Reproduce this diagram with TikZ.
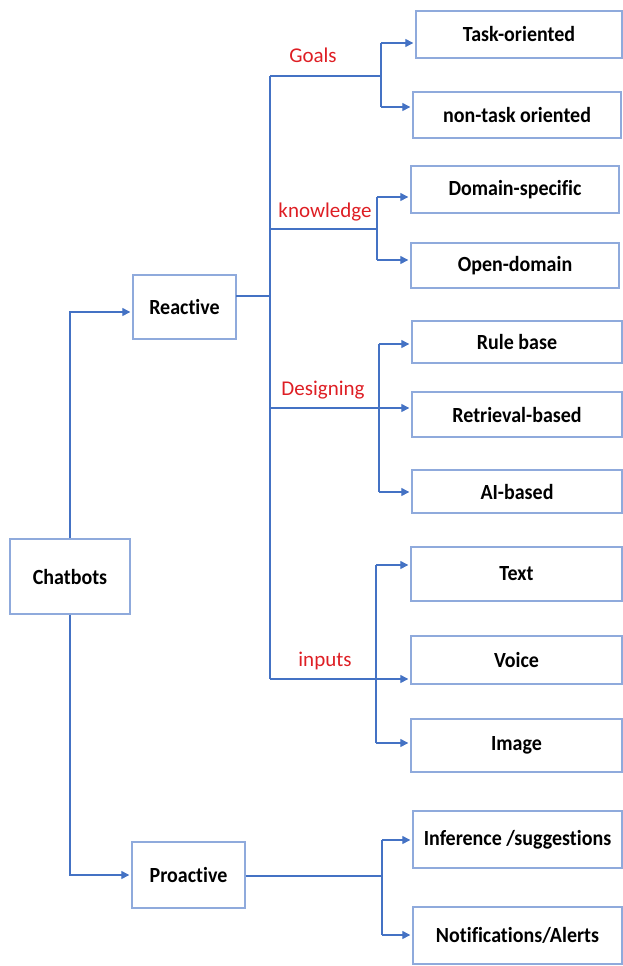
\documentclass[tikz,border=0pt]{standalone}
\usepackage{fontspec}
\setmainfont[Ligatures=NoCommon]{Carlito}
\usetikzlibrary{arrows.meta}
\definecolor{linkblue}{RGB}{68,114,196}
\definecolor{boxblue}{RGB}{143,170,220}
\definecolor{labelred}{RGB}{222,30,36}
\newcommand{\tallt}[1]{\scalebox{1}[1.08]{#1}}
\tikzset{
  catbox/.style={draw=boxblue, line width=1.4pt, fill=white, inner sep=0pt,
    font=\fontsize{20}{23}\selectfont\bfseries, text=black},
  link/.style={draw=linkblue, line width=1.3pt},
  arr/.style={link, -{Triangle[length=8pt,width=8pt]}, shorten >=2pt},
  branchlabel/.style={font=\fontsize{21}{24}\selectfont, text=labelred}
}
\begin{document}
\begin{tikzpicture}[x=1pt,y=-1pt]
\useasboundingbox (0,0) rectangle (623,966);

% main categories
\node[catbox, minimum width=120pt, minimum height=75pt] (chat) at (70,576.5) {\tallt{Chatbots}};
\node[catbox, minimum width=103pt, minimum height=64pt] (reac) at (184.5,307) {\tallt{Reactive}};
\node[catbox, minimum width=113pt, minimum height=66pt] (proa) at (188.5,875) {\tallt{Proactive}};

% leaves
\node[catbox, minimum width=206pt, minimum height=47pt] (task) at (519,34.5) {\tallt{Task-oriented}};
\node[catbox, minimum width=208pt, minimum height=46pt] (nontask) at (517,115) {\tallt{non-task oriented}};
\node[catbox, minimum width=208pt, minimum height=47pt] (dom) at (515,189.5) {\tallt{Domain-specific}};
\node[catbox, minimum width=208pt, minimum height=45pt] (open) at (515,265.5) {\tallt{Open-domain}};
\node[catbox, minimum width=210pt, minimum height=42pt] (rule) at (517,342) {\tallt{Rule base}};
\node[catbox, minimum width=210pt, minimum height=45pt] (retr) at (517,414.5) {\tallt{Retrieval-based}};
\node[catbox, minimum width=210pt, minimum height=43pt] (ai) at (517,491.5) {\tallt{AI-based}};
\node[catbox, minimum width=211pt, minimum height=54pt] (text) at (516.5,574) {\tallt{Text}};
\node[catbox, minimum width=211pt, minimum height=48pt] (voice) at (516.5,660) {\tallt{Voice}};
\node[catbox, minimum width=211pt, minimum height=53pt] (image) at (516.5,745.5) {\tallt{Image}};
\node[catbox, minimum width=209pt, minimum height=57pt] (inf) at (517.5,839.5) {\tallt{Inference /suggestions}};
\node[catbox, minimum width=209pt, minimum height=57pt] (notif) at (517.5,935.5) {\tallt{Notifications/Alerts}};

% routing points
\coordinate (reacin) at (133,312);
\coordinate (reacout) at (236,296);
\coordinate (trunk) at (270,296);
\coordinate (gl) at (270,76);
\coordinate (gj) at (381,76);
\coordinate (gt) at (381,43);
\coordinate (gb) at (381,107);
\coordinate (kl) at (270,229);
\coordinate (kj) at (377,229);
\coordinate (kt) at (377,197);
\coordinate (kb) at (377,260);
\coordinate (dl) at (270,408);
\coordinate (dt) at (379,344);
\coordinate (db) at (379,492);
\coordinate (il) at (270,679);
\coordinate (it) at (376,565);
\coordinate (ib) at (376,743);
\coordinate (pj) at (382,876);
\coordinate (pt) at (382,840);
\coordinate (pb) at (382,935);

% Chatbots to its two kinds
\draw[arr] (chat.north) |- (reac.west |- reacin);
\draw[arr] (chat.south) |- (proa.west);

% Reactive trunk
\draw[link] (reacout) -- (trunk);
\draw[link] (gl) -- (il);

% Goals
\draw[link] (gl) -- (gj);
\draw[link] (gt) -- (gb);
\draw[arr] (gt) -- (task.west |- gt);
\draw[arr] (gb) -- (nontask.west |- gb);
\node[branchlabel] (goals) at (313,55) {Goals};

% knowledge
\draw[link] (kl) -- (kj);
\draw[link] (kt) -- (kb);
\draw[arr] (kt) -- (dom.west |- kt);
\draw[arr] (kb) -- (open.west |- kb);
\node[branchlabel] (know) at (325,212) {knowledge};

% Designing
\draw[arr] (dl) -- (retr.west |- dl);
\draw[link] (dt) -- (db);
\draw[arr] (dt) -- (rule.west |- dt);
\draw[arr] (db) -- (ai.west |- db);
\node[branchlabel] (design) at (323,390) {Designing};

% inputs
\draw[arr] (il) -- (voice.west |- il);
\draw[link] (it) -- (ib);
\draw[arr] (it) -- (text.west |- it);
\draw[arr] (ib) -- (image.west |- ib);
\node[branchlabel] (inputs) at (325,661) {inputs};

% Proactive branch
\draw[link] (proa.east |- pj) -- (pj);
\draw[link] (pt) -- (pb);
\draw[arr] (pt) -- (inf.west |- pt);
\draw[arr] (pb) -- (notif.west |- pb);
\end{tikzpicture}
\end{document}
